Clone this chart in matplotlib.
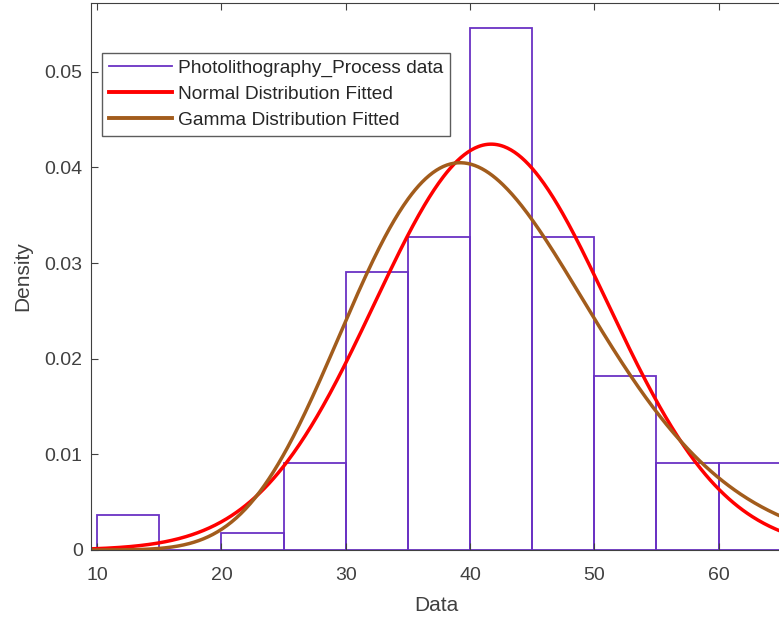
import math

import matplotlib

matplotlib.use("Agg")
import matplotlib.pyplot as plt
import numpy as np
from matplotlib.lines import Line2D

plt.rcParams["font.family"] = ["Liberation Sans", "DejaVu Sans"]

# histogram: bin edges (width 5) and counts per bin, N = 110
bin_edges = [10, 15, 20, 25, 30, 35, 40, 45, 50, 55, 60, 65]
bin_counts = [2, 0, 1, 5, 16, 18, 30, 18, 10, 5, 5]

# fitted parameters
normal_mu = 41.7
normal_sigma = 9.4
gamma_k = 17.0
gamma_theta = 2.45

labels = ["Photolithography_Process data", "Normal Distribution Fitted",
          "Gamma Distribution Fitted"]

BAR_C = "#6a32c4"
NORM_C = "#ff0000"
GAMMA_C = "#a25c1c"
TXT_C = "#404040"


def normal_pdf(x, mu, s):
    return np.exp(-0.5 * ((x - mu) / s) ** 2) / (s * math.sqrt(2 * math.pi))


def gamma_pdf(x, k, th):
    return np.exp((k - 1) * np.log(x) - x / th - math.lgamma(k) - k * math.log(th))


edges = np.array(bin_edges, dtype=float)
counts = np.array(bin_counts, dtype=float)
width = np.diff(edges)
density = counts / (counts.sum() * width)

fig = plt.figure(figsize=(7.79, 6.23), dpi=100)
ax = fig.add_axes([91 / 779, (623 - 550) / 623, 1 - 91 / 779 + 0.003, (550 - 3) / 623])

ax.bar(edges[:-1], density, width=width, align="edge", fill=False,
       edgecolor=BAR_C, linewidth=1.3)

xs = np.linspace(9.6, 66, 600)
ax.plot(xs, normal_pdf(xs, normal_mu, normal_sigma), color=NORM_C, lw=2.5)
ax.plot(xs, gamma_pdf(xs, gamma_k, gamma_theta), color=GAMMA_C, lw=2.5)

ax.set_xlim(9.5, 65.05)
ax.set_ylim(0, 0.0572)
ax.set_xticks([10, 20, 30, 40, 50, 60])
ax.set_yticks([0, 0.01, 0.02, 0.03, 0.04, 0.05])
ax.set_yticklabels(["0", "0.01", "0.02", "0.03", "0.04", "0.05"])
ax.tick_params(direction="in", top=True, right=False, labelsize=14,
               colors=TXT_C, length=5)
ax.tick_params(axis="y", pad=6)
ax.tick_params(axis="x", pad=12)
for side in ("left", "bottom", "top"):
    ax.spines[side].set_color(TXT_C)
ax.spines["right"].set_visible(False)

ax.set_xlabel("Data", fontsize=15, color=TXT_C, labelpad=9)
ax.set_ylabel("Density", fontsize=15, color=TXT_C, labelpad=9)

# legend entries drawn as lines, like the MATLAB legend
handles = [Line2D([0], [0], color=BAR_C, lw=1.3),
           Line2D([0], [0], color=NORM_C, lw=2.8),
           Line2D([0], [0], color=GAMMA_C, lw=2.8)]
leg = ax.legend(handles, labels, loc="upper left", bbox_to_anchor=(0.016, 0.909),
                fontsize=13.8, frameon=True, fancybox=False, borderpad=0.35,
                labelspacing=0.45, handlelength=3.3, handletextpad=0.3, borderaxespad=0)
leg.get_frame().set_edgecolor("#333333")
leg.get_frame().set_linewidth(1.0)
for t in leg.get_texts():
    t.set_color("#262626")

fig.savefig("out.png", dpi=100)
